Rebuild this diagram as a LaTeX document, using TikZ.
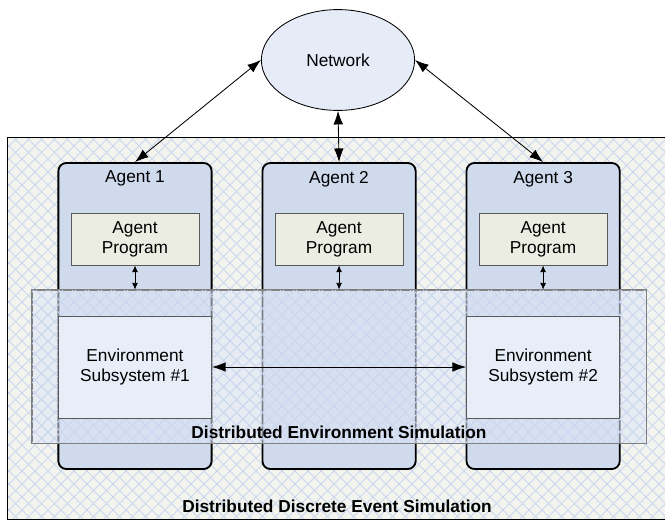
\documentclass[tikz,border=0pt]{standalone}
\usepackage{fontspec}
\setmainfont{Liberation Sans}
\usetikzlibrary{positioning, arrows.meta, shapes.geometric}
\definecolor{bgcream}{RGB}{244,244,238}
\definecolor{hatchblue}{RGB}{202,214,240}
\definecolor{agentblue}{RGB}{207,218,237}
\definecolor{progbeige}{RGB}{236,237,226}
\definecolor{netblue}{RGB}{230,236,247}
\definecolor{envblue}{RGB}{232,238,248}
\definecolor{bandblue}{RGB}{222,230,246}
\tikzset{
>={Latex[length=3.4mm,width=2.4mm]}, % big heads for the long edges
small tips/.style={>={Latex[length=1.7mm,width=1.5mm]}},
node distance=5.1cm,
every node/.style={font=\fontsize{12.3}{14.2}\selectfont},
agent box/.style={draw, line width=1.3pt, rounded corners=0.2cm, fill=agentblue,
  minimum width=3.83cm, minimum height=7.65cm},
prog box/.style={draw=black!65, line width=0.6pt, fill=progbeige, align=center,
  minimum width=3.2cm, minimum height=1.3cm},
env box/.style={draw=black!65, line width=0.6pt, fill=envblue, align=center,
  minimum width=3.83cm, minimum height=2.55cm},
band box/.style={draw=black!50, line width=0.5pt, fill=bandblue, fill opacity=0.55,
  text opacity=1, minimum width=15.35cm, minimum height=3.825cm},
net ellipse/.style={draw, ellipse, line width=0.6pt, fill=netblue,
  minimum width=3.83cm, minimum height=2.52cm},
hatch line/.style={hatchblue, line width=0.6pt},
link/.style={<->, line width=0.6pt},
}

\begin{document}
\begin{tikzpicture}[x=0.025cm, y=-0.025cm]
\clip (0,0) rectangle (665,521);

% outer simulation area
\fill[bgcream] (7,137) rectangle (690,519);
\begin{scope}
\clip (7,137) rectangle (690,519);
\foreach \c in {-420,-407,...,1100}
  \draw[hatch line] (\c,120) -- ++(420,420) (\c,120) -- ++(-420,420);
\end{scope}
\draw[line width=0.6pt] (7,137) rectangle (690,519);
\node[font=\fontsize{12.3}{14.2}\selectfont\bfseries] (ddes) at (337,506) {Distributed Discrete Event Simulation};

\node[net ellipse] (net) at (338,60) {Network};

\node[agent box, label={[below=0.1cm]north:Agent 1}] (agent1) at (135,316) {};
\node[agent box, right of=agent1, label={[below=0.1cm]north:Agent 2}] (agent2) {};
\node[agent box, right of=agent2, label={[below=0.1cm]north:Agent 3}] (agent3) {};

\node[prog box] (prog1) at (agent1 |- 0,239) {Agent\\Program};
\node[prog box] (prog2) at (agent2 |- 0,239) {Agent\\Program};
\node[prog box] (prog3) at (agent3 |- 0,239) {Agent\\Program};

% environment band over the agents
\node[band box] (band) at (339,366.5) {};
\begin{scope}
\clip (32,290) rectangle (646,443);
\foreach \c in {-420,-407,...,1100}
  \draw[hatch line] (\c,120) -- ++(420,420) (\c,120) -- ++(-420,420);
\end{scope}
\draw[black!50, line width=0.5pt] (band.north west) rectangle (band.south east);
\node[above, font=\fontsize{12.3}{14.2}\selectfont\bfseries] (desim) at (band.south) {Distributed Environment Simulation};

\node[env box] (env1) at (agent1 |- 0,367) {Environment\\Subsystem \#1};
\node[env box] (env2) at (agent3 |- 0,367) {Environment\\Subsystem \#2};

\draw[link] (net.west) -- (agent1.north);
\draw[link] (net.south) -- (agent2.north);
\draw[link] (net.east) -- (agent3.north);
\draw[link] (env1) -- (env2);
\draw[link, small tips] (prog1) -- (prog1 |- band.north);
\draw[link, small tips] (prog2) -- (prog2 |- band.north);
\draw[link, small tips] (prog3) -- (prog3 |- band.north);

\end{tikzpicture}
\end{document}
